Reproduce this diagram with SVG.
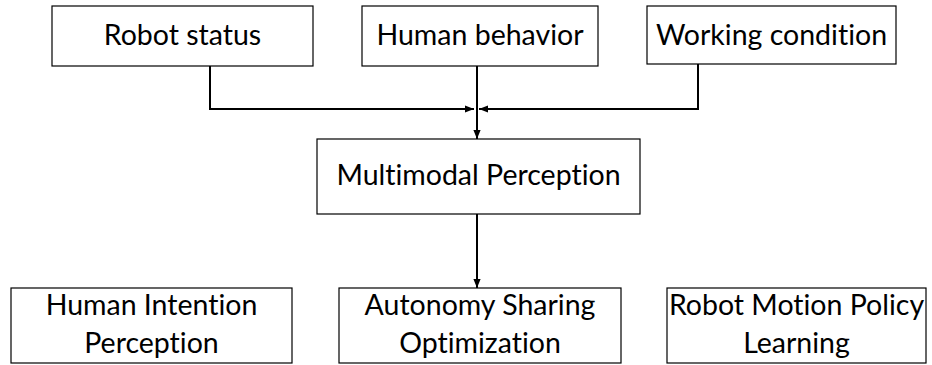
<svg xmlns="http://www.w3.org/2000/svg" width="932" height="365" viewBox="0 0 932 365">
  <defs>
    <marker id="arrow" viewBox="0 0 10 10" refX="10" refY="5" markerWidth="9" markerHeight="9" markerUnits="userSpaceOnUse" orient="auto">
      <path d="M0,1 L10,5 L0,9 Z" fill="#000"/>
    </marker>
  </defs>
  <style>
    .box { fill: #fff; stroke: #000; stroke-width: 1.2; }
    .label { font-family: Lato, "Open Sans", sans-serif; font-size: 28.5px; fill: #000; text-anchor: middle; font-variant-ligatures: none; font-feature-settings: "liga" 0; }
    .edge { fill: none; stroke: #000; stroke-width: 2; }
  </style>
  <rect width="932" height="365" fill="#fff"/>

  <g id="robot-status">
    <rect class="box" x="52" y="6" width="261" height="60"/>
    <text class="label" x="182.5" y="45">Robot status</text>
  </g>
  <g id="human-behavior">
    <rect class="box" x="362" y="6" width="236" height="60"/>
    <text class="label" x="480" y="45">Human behavior</text>
  </g>
  <g id="working-condition">
    <rect class="box" x="647" y="6" width="249" height="58"/>
    <text class="label" x="771.5" y="45">Working condition</text>
  </g>
  <g id="multimodal-perception">
    <rect class="box" x="317" y="139" width="323" height="75"/>
    <text class="label" x="478.5" y="185">Multimodal Perception</text>
  </g>
  <g id="human-intention">
    <rect class="box" x="11" y="288" width="281" height="75"/>
    <text class="label" x="151.5" y="315">Human Intention</text>
    <text class="label" x="151.5" y="353">Perception</text>
  </g>
  <g id="autonomy-sharing">
    <rect class="box" x="339" y="288" width="282" height="75"/>
    <text class="label" x="480" y="315">Autonomy Sharing</text>
    <text class="label" x="480" y="353">Optimization</text>
  </g>
  <g id="motion-policy">
    <rect class="box" x="667" y="288" width="259" height="75"/>
    <text class="label" x="796.5" y="315">Robot Motion Policy</text>
    <text class="label" x="796.5" y="353">Learning</text>
  </g>

  <g id="connectors">
    <polyline class="edge" points="210,66 210,109 474,109" marker-end="url(#arrow)"/>
    <polyline class="edge" points="698,64 698,109 479,109" marker-end="url(#arrow)"/>
    <line class="edge" x1="477" y1="66" x2="477" y2="139" marker-end="url(#arrow)"/>
    <line class="edge" x1="477" y1="214" x2="477" y2="288" marker-end="url(#arrow)"/>
  </g>
</svg>
